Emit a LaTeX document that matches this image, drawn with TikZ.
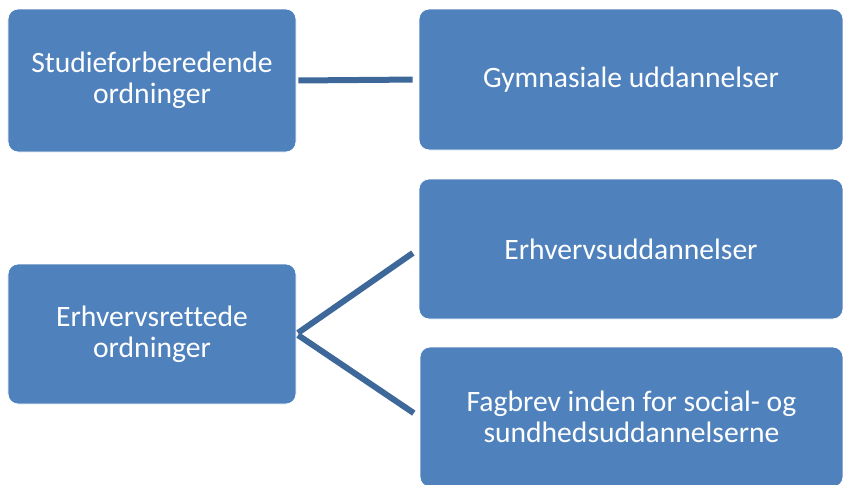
\documentclass[tikz,border=0pt]{standalone}
\usepackage{fontspec}
\setmainfont{Carlito}[Ligatures=CommonOff]
\definecolor{boxblue}{HTML}{4F81BD}
\definecolor{linkblue}{HTML}{3D6899}
\begin{document}
\begin{tikzpicture}[x=0.5pt,y=-0.5pt,
        ordbox/.style={rectangle, rounded corners=5pt, fill=boxblue, draw=white, line width=0.4pt,
            text=white, align=center, inner sep=0pt,
            font=\fontsize{14.8}{15.5}\selectfont},
        link/.style={draw=linkblue, line width=3pt}]
        \useasboundingbox (0,0) rectangle (843,484);

        % --- Draw left column ---
        \node[ordbox, minimum width=144pt, minimum height=71.5pt] (studie) at (152,80.5) {Studieforberedende\\ordninger};
        \node[ordbox, minimum width=144pt, minimum height=70pt] (erhverv) at (152,334) {Erhvervsrettede\\ordninger};
        % ---

        % --- Draw right column ---
        \node[ordbox, minimum width=212pt, minimum height=70.5pt] (gym) at (631,79.5) {Gymnasiale uddannelser};
        \node[ordbox, minimum width=212pt, minimum height=70pt] (eud) at (631,249) {Erhvervsuddannelser};
        \node[ordbox, minimum width=211.5pt, minimum height=70pt] (fagbrev) at (631.5,417) {Fagbrev inden for social- og\\sundhedsuddannelserne};
        % ---

        % --- Draw links ---
        \draw[link, shorten <=1pt, shorten >=3pt] (studie.east) -- (gym.west);
        \draw[link, shorten <=1pt, shorten >=3.5pt] (erhverv.east) -- (eud.west);
        \draw[link, shorten <=1pt, shorten >=3.5pt] (erhverv.east) -- (fagbrev.west);
        % ---
    \end{tikzpicture}
\end{document}
